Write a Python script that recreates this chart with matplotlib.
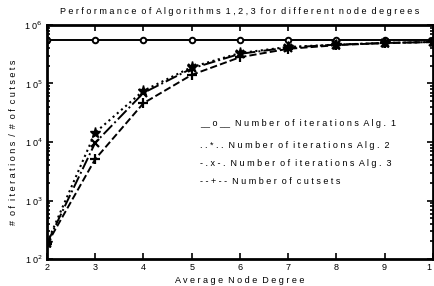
import matplotlib
matplotlib.use("Agg")
import matplotlib.pyplot as plt
from matplotlib.ticker import LogLocator, NullFormatter

# node degree on the x axis
degree = [2, 3, 4, 5, 6, 7, 8, 9, 10]
iters_alg1 = [5.5e5, 5.5e5, 5.5e5, 5.5e5, 5.5e5, 5.5e5, 5.5e5, 5.5e5, 5.5e5]
iters_alg2 = [190, 1.45e4, 7.5e4, 1.9e5, 3.3e5, 4.2e5, 4.6e5, 4.9e5, 5.1e5]
iters_alg3 = [185, 9.7e3, 6.9e4, 1.8e5, 3.2e5, 4.1e5, 4.6e5, 4.9e5, 5.1e5]
cutsets = [180, 5.1e3, 4.6e4, 1.4e5, 2.8e5, 3.9e5, 4.5e5, 4.9e5, 5.1e5]

legend_lines = ["__o__ Number of iterations Alg. 1",
                "..*.. Number of iterations Alg. 2",
                "-.x-. Number of iterations Alg. 3",
                "--+-- Number of cutsets"]


def spaced(s):
    # old printout look: letters spread apart
    return " ".join(s).replace("   ", "  ")


plt.rcParams["font.family"] = ["Liberation Sans", "DejaVu Sans"]

fig = plt.figure(figsize=(4.35, 2.86), dpi=100)
ax = fig.add_axes([0.108, 0.094, 0.887, 0.819])

ax.plot(degree, iters_alg1, "k-", marker="o", ms=4, mfc="white", mew=1.4, lw=1.4)
ax.plot(degree, iters_alg2, "k:", marker="*", ms=8, lw=1.5)
ax.plot(degree, iters_alg3, "k-.", marker="x", ms=6, mew=1.6, lw=1.4)
ax.plot(degree, cutsets, "k--", marker="+", ms=7, mew=1.6, lw=1.4)

ax.set_yscale("log")
ax.set_xlim(2, 10)
ax.set_ylim(1e2, 1e6)
ax.set_xticks(degree)
ax.set_xticklabels([spaced(str(d)) for d in degree], fontsize=6.5)
ax.yaxis.set_minor_locator(LogLocator(base=10, subs=range(2, 10), numticks=10))
ax.yaxis.set_minor_formatter(NullFormatter())
ax.set_yticks([1e2, 1e3, 1e4, 1e5, 1e6])
ax.set_yticklabels([r"1 0$^{%d}$" % e for e in [2, 3, 4, 5, 6]], fontsize=6.5)

ax.tick_params(which="both", direction="in", top=True, right=True, width=1.2)
ax.tick_params(which="major", length=4, pad=3)
ax.tick_params(which="minor", length=2)
for sp in ax.spines.values():
    sp.set_linewidth(2)

ax.set_title(spaced("Performance of Algorithms 1,2,3 for different node degrees"),
             fontsize=6.5, pad=8)
ax.set_xlabel(spaced("Average Node Degree"), fontsize=6.5, labelpad=3)
ax.set_ylabel(spaced("# of iterations / # of cutsets"), fontsize=6.5, labelpad=5)

ys = [124, 145, 163, 182]
for txt, y in zip(legend_lines, ys):
    fig.text(200 / 435, 1 - y / 286, spaced(txt).replace("_ _", "__"),
             fontsize=6.5, va="center", ha="left")

fig.savefig("out.png", dpi=100)
